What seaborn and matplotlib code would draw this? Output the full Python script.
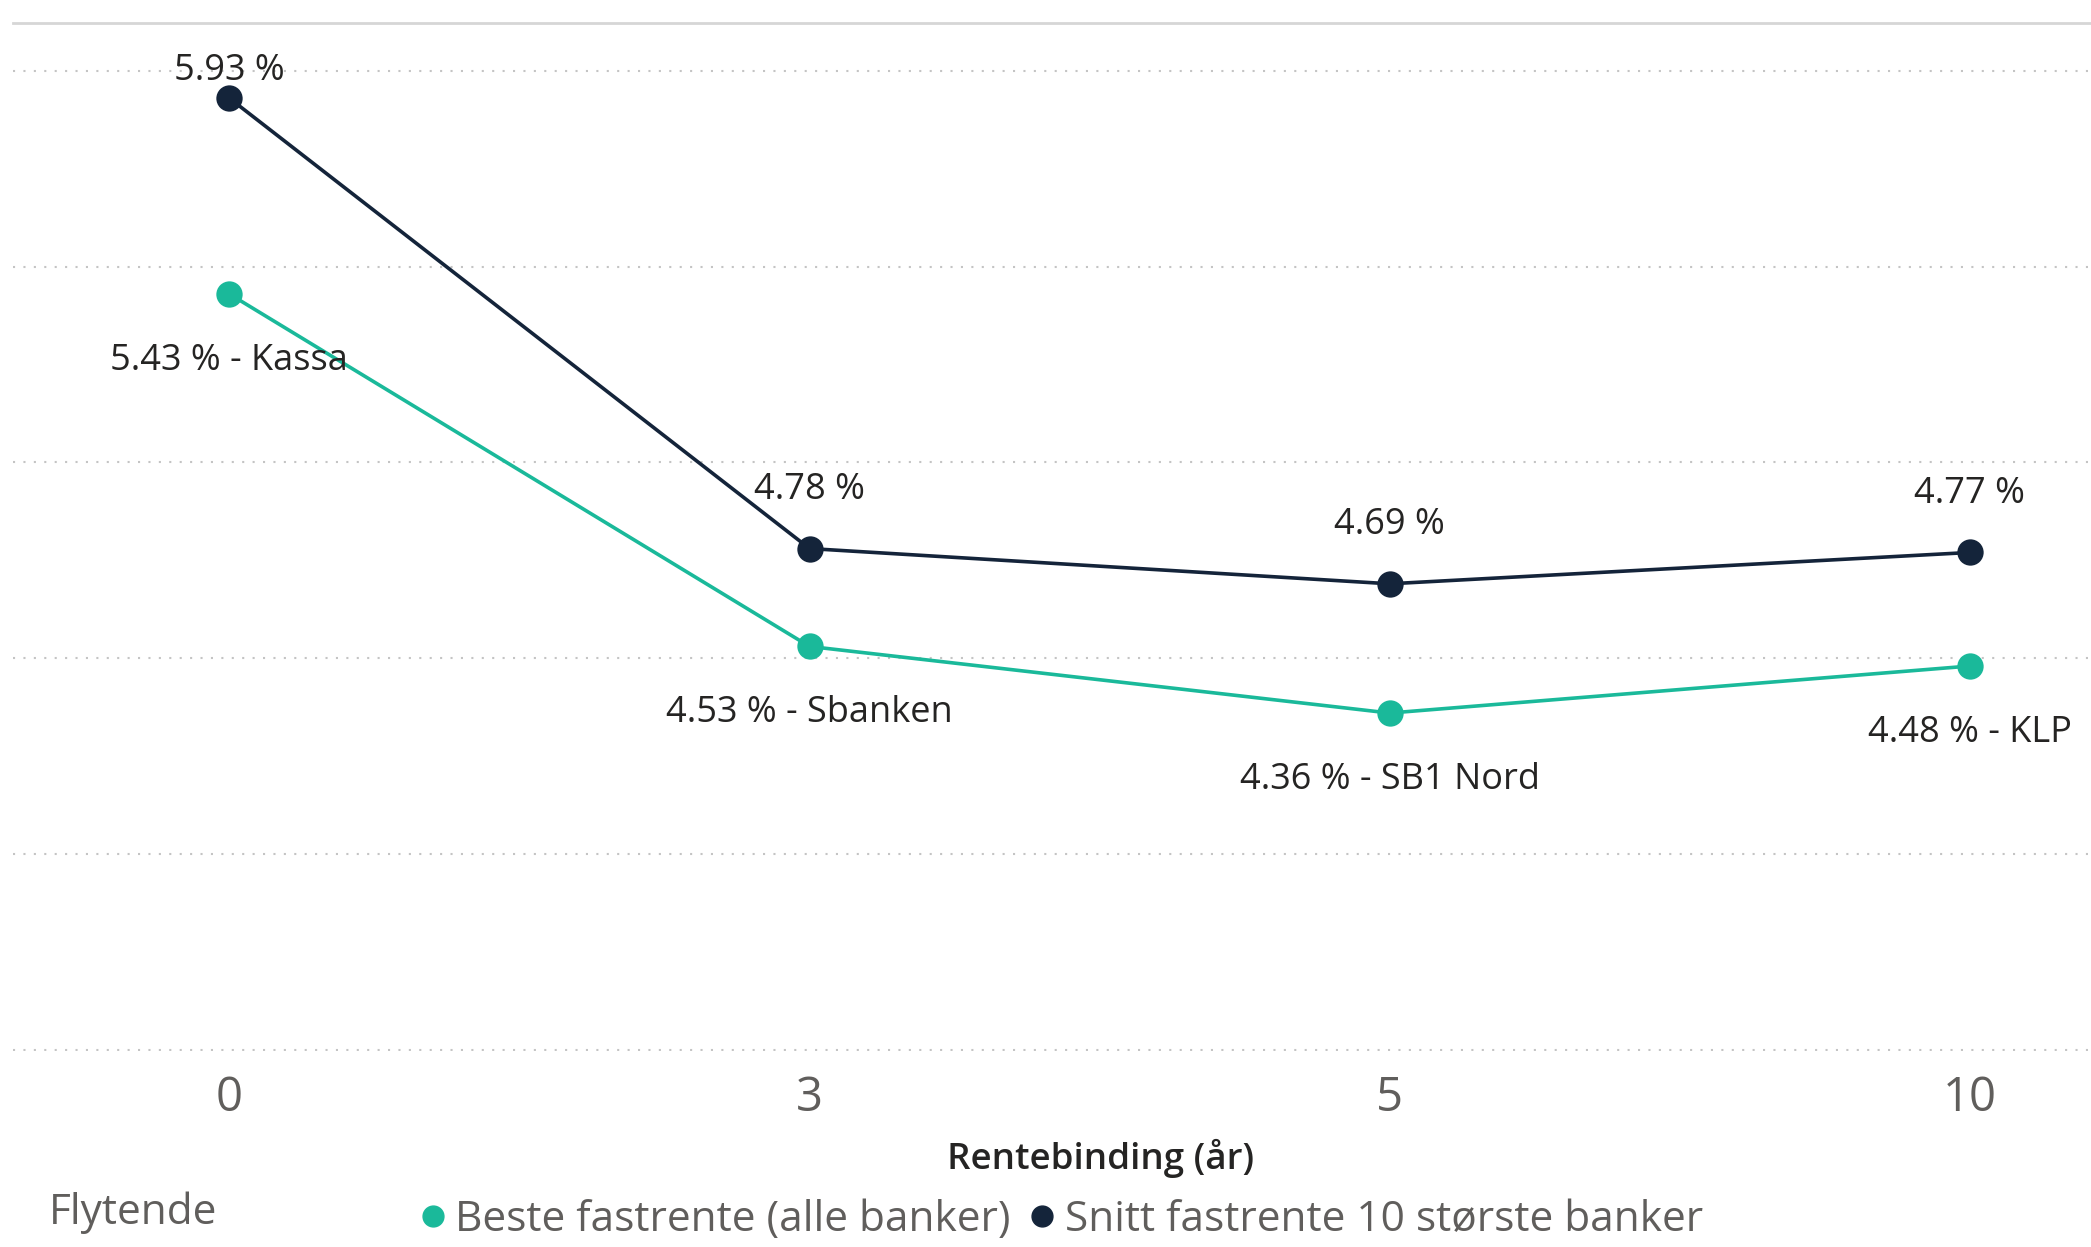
import matplotlib
matplotlib.use("Agg")
import matplotlib.pyplot as plt
import seaborn as sns
import pandas as pd
from matplotlib.lines import Line2D

# data
binding = ["0", "3", "5", "10"]
beste = [5.43, 4.53, 4.36, 4.48]
beste_bank = ["Kassa", "Sbanken", "SB1 Nord", "KLP"]
snitt = [5.93, 4.78, 4.69, 4.77]
serier = ["Beste fastrente (alle banker)", "Snitt fastrente 10 største banker"]
farger = ["#1AB99A", "#14243A"]

df = pd.DataFrame({
    "binding": binding * 2,
    "rente": beste + snitt,
    "serie": [serier[0]] * len(binding) + [serier[1]] * len(binding),
})

sns.set_theme(style="white")
plt.rcParams["font.family"] = ["Open Sans", "DejaVu Sans"]

W, H = 2091, 1247
fig = plt.figure(figsize=(W / 100, H / 100), dpi=100)
ax = fig.add_axes([13 / W, 196 / H, 1 - 13 / W, 1028 / H])

sns.pointplot(data=df, x="binding", y="rente", hue="serie", order=binding,
              hue_order=serier, palette=farger, markers="o", markersize=17,
              linewidth=2.6, errorbar=None, dodge=False, legend=False, ax=ax)

ax.set_xlim(-0.373, 3.209)
ax.set_ylim(3.497, 6.122)
ax.set_yticks([3.5, 4.0, 4.5, 5.0, 5.5, 6.0])
ax.yaxis.grid(True, linestyle=(0, (1, 4)), color="#c4c4c4", linewidth=1.5)
ax.xaxis.grid(False)
ax.tick_params(axis="y", left=False, labelleft=False, length=0)
ax.tick_params(axis="x", length=0, pad=17, labelsize=34, labelcolor="#605E5C")
for s in ["left", "right", "bottom"]:
    ax.spines[s].set_visible(False)
ax.spines["top"].set_color("#d6d6d6")
ax.spines["top"].set_linewidth(2)
ax.set_ylabel("")

# data labels
for i, v in enumerate(snitt):
    ax.text(i, min(v + 0.15, 6.0), f"{v:.2f} %", ha="center", va="center",
            fontsize=26, color="#252423")
for i, (v, b) in enumerate(zip(beste, beste_bank)):
    ax.text(i, v - 0.17, f"{v:.2f} % - {b}", ha="center", va="center",
            fontsize=26, color="#252423")

ax.set_xlabel("Rentebinding (år)", fontsize=26.5, color="#252423", fontweight="semibold")
ax.xaxis.set_label_coords(0.5236, -0.105)
ax.xaxis.label.set_va("center")

fig.text(49 / W, 1 - 1213 / H, "Flytende", fontsize=30.5, color="#605E5C", va="center")

handles = [Line2D([], [], marker="o", linestyle="", color=c, markersize=15) for c in farger]
fig.legend(handles, serier, loc="center left", bbox_to_anchor=(422 / W, 1 - 1220 / H),
           ncol=2, frameon=False, fontsize=30.5, labelcolor="#605E5C",
           handlelength=0.5, handletextpad=0.28, columnspacing=0.5,
           borderpad=0, borderaxespad=0)

fig.savefig("out.png", dpi=100)
